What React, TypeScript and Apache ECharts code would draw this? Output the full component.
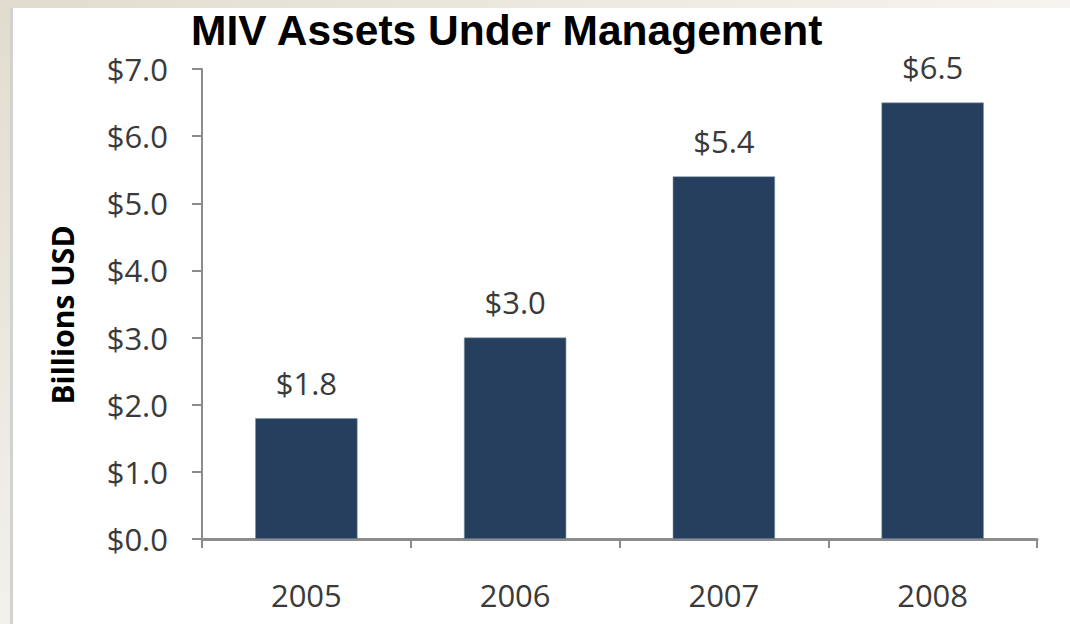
import React, { useEffect, useRef } from "react";
import * as echarts from "echarts";

const years: string[] = ["2005", "2006", "2007", "2008"];
const assets: number[] = [1.8, 3.0, 5.4, 6.5];
const yMin = 0;
const yMax = 7;
const yStep = 1;
const titleText = "MIV Assets Under Management";
const yAxisTitle = "Billions USD";

const LABEL_FONT = "'Open Sans', 'Noto Sans', sans-serif";

export default function App() {
  const ref = useRef<HTMLDivElement>(null);

  useEffect(() => {
    if (!ref.current) return;
    const chart = echarts.init(ref.current, null, { renderer: "svg" });
    const money = (v: number) => "$" + v.toFixed(1);
    chart.setOption({
      animation: false,
      backgroundColor: "#ffffff",
      title: {
        text: titleText,
        left: 186,
        top: 4,
        textStyle: {
          fontFamily: "'Liberation Sans', Arial, sans-serif",
          fontWeight: "bold",
          fontSize: 42.5,
          color: "#000000",
        },
      },
      graphic: [
        {
          type: "rect",
          shape: { x: 0, y: 0, width: 1070, height: 8 },
          style: {
            fill: new echarts.graphic.LinearGradient(0, 0, 1, 0, [
              { offset: 0, color: "#e2dccf" },
              { offset: 1, color: "#f6f4ee" },
            ]),
          },
          silent: true,
        },
        {
          type: "rect",
          shape: { x: 0, y: 0, width: 10, height: 624 },
          style: {
            fill: new echarts.graphic.LinearGradient(0, 0, 0, 1, [
              { offset: 0, color: "#e2dccf" },
              { offset: 1, color: "#f2f1ec" },
            ]),
          },
          silent: true,
        },
        {
          type: "rect",
          shape: { x: 10, y: 8, width: 3, height: 616 },
          style: { fill: "#d2d2d2" },
          silent: true,
        },
        {
          type: "text",
          x: 62,
          y: 315,
          rotation: Math.PI / 2,
          style: {
            text: yAxisTitle,
            fontFamily: LABEL_FONT,
            fontWeight: "bold",
            fontSize: 30,
            fill: "#000000",
            align: "center",
            verticalAlign: "middle",
          },
          silent: true,
        },
      ],
      grid: { left: 202, right: 33, top: 69, bottom: 85, containLabel: false },
      xAxis: {
        type: "category",
        data: years,
        axisLine: { show: true, lineStyle: { color: "#8c8c8c", width: 3 } },
        axisTick: {
          show: true,
          alignWithLabel: false,
          interval: 0,
          length: 9,
          lineStyle: { color: "#8c8c8c", width: 2 },
        },
        axisLabel: {
          margin: 40,
          fontFamily: LABEL_FONT,
          fontSize: 31,
          color: "#3a3a3a",
        },
      },
      yAxis: {
        type: "value",
        min: yMin,
        max: yMax,
        interval: yStep,
        splitLine: { show: false },
        axisLine: { show: true, lineStyle: { color: "#8c8c8c", width: 2 } },
        axisTick: { show: true, length: 10, lineStyle: { color: "#8c8c8c", width: 2 } },
        axisLabel: {
          margin: 34,
          formatter: (v: number) => money(v),
          fontFamily: LABEL_FONT,
          fontSize: 31,
          color: "#3a3a3a",
        },
      },
      series: [
        {
          type: "bar",
          data: assets,
          barWidth: "49%",
          itemStyle: { color: "#263f5f", borderColor: "#7f90a6", borderWidth: 0.6 },
          label: {
            show: true,
            position: "top",
            distance: 20,
            formatter: (p: any) => money(p.value as number),
            fontFamily: LABEL_FONT,
            fontSize: 31,
            color: "#3a3a3a",
          },
        },
      ],
    });
    return () => chart.dispose();
  }, []);

  return (
    <div
      ref={ref}
      style={{ position: "fixed", left: 0, top: 0, width: 1070, height: 624 }}
    />
  );
}
